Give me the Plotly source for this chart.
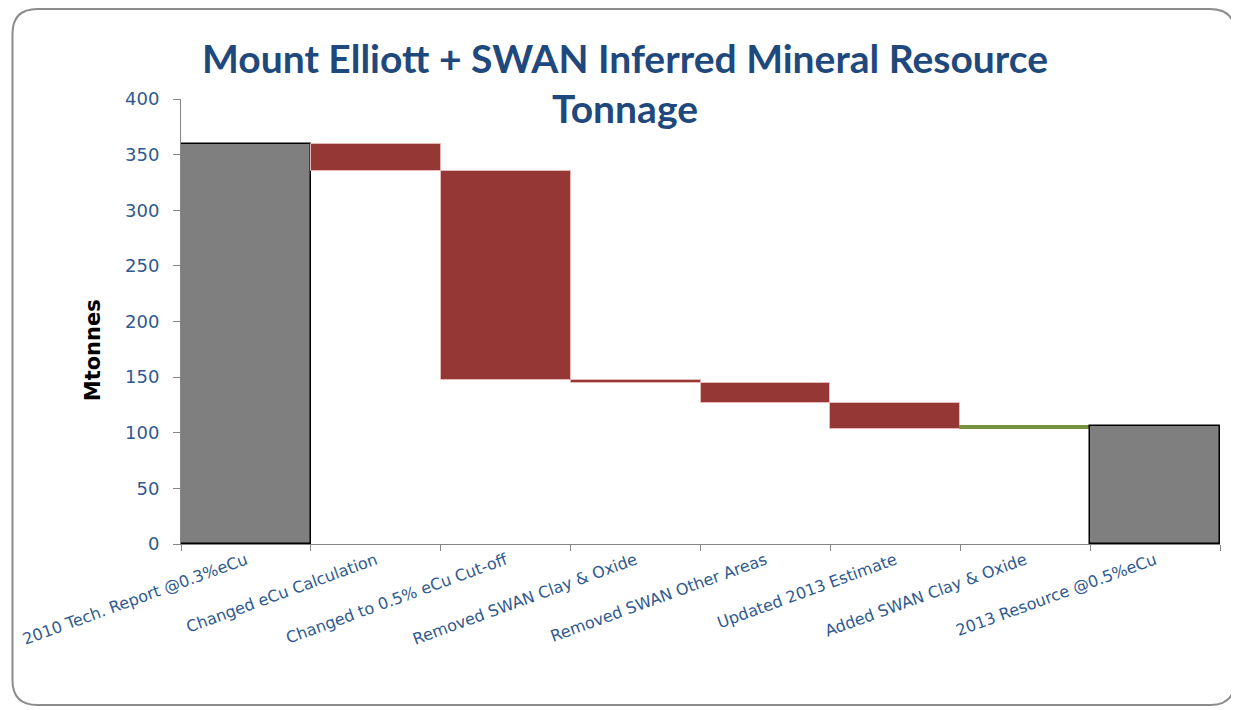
import plotly.graph_objects as go

categories = [
    "2010 Tech. Report @0.3%eCu",
    "Changed eCu Calculation",
    "Changed to 0.5% eCu Cut-off",
    "Removed SWAN Clay & Oxide",
    "Removed SWAN Other Areas",
    "Updated 2013 Estimate",
    "Added SWAN Clay & Oxide",
    "2013 Resource @0.5%eCu",
]
values = [360, -24.5, -188, -3, -18, -23, 2.8, 0]
measures = ["absolute", "relative", "relative", "relative", "relative", "relative", "relative", "total"]
y_ticks = [0, 50, 100, 150, 200, 250, 300, 350, 400]

# page body has an 8px margin, so the figure is drawn offset by (8, 8)
OFF = 8
W, H = 1239 - OFF, 710 - OFF
ml, mr, mt, mb = 178 - OFF, 1239 - 1220, 99 - OFF, 710 - 544
pw, ph = W - ml - mr, H - mt - mb

def px(x):
    return (x - OFF - ml) / pw

def py(y):
    return (H - mb - (y - OFF)) / ph

fig = go.Figure(go.Waterfall(
    x=categories,
    y=values,
    measure=measures,
    decreasing=dict(marker=dict(color="#953735", line=dict(color="#E6B9B8", width=1))),
    increasing=dict(marker=dict(color="#77933C", line=dict(color="#77933C", width=1))),
    totals=dict(marker=dict(color="#7F7F7F", line=dict(color="#000000", width=1.5))),
    connector=dict(visible=False),
    hoverinfo="x+y",
))

# rounded frame
x0, x1 = px(9), px(1235)
yt, yb = py(9), py(705)
rx, ry = 25 / pw, 25 / ph
path = (f"M {x0+rx},{yt} L {x1-rx},{yt} Q {x1},{yt} {x1},{yt-ry} "
        f"L {x1},{yb+ry} Q {x1},{yb} {x1-rx},{yb} L {x0+rx},{yb} "
        f"Q {x0},{yb} {x0},{yb+ry} L {x0},{yt-ry} Q {x0},{yt} {x0+rx},{yt} Z")
fig.add_shape(type="path", path=path, xref="paper", yref="paper",
              line=dict(color="#8C8C8C", width=2), layer="below")

title_font = dict(family="Lato", size=39, color="#1F497D", weight="bold")
fig.add_annotation(text="<b>Mount Elliott + SWAN Inferred Mineral Resource</b>",
                   x=px(623), y=py(58), xref="paper", yref="paper",
                   showarrow=False, font=title_font, xanchor="center", yanchor="middle")
fig.add_annotation(text="<b>Tonnage</b>",
                   x=px(623), y=py(108), xref="paper", yref="paper",
                   showarrow=False, font=title_font, xanchor="center", yanchor="middle")
fig.add_annotation(text="<b>Mtonnes</b>", textangle=-90,
                   x=px(90), y=py(350), xref="paper", yref="paper",
                   showarrow=False, xanchor="center", yanchor="middle",
                   font=dict(size=21, color="black", family="DejaVu Sans"))

fig.update_layout(
    width=W, height=H,
    margin=dict(l=ml, r=mr, t=mt, b=mb),
    paper_bgcolor="white", plot_bgcolor="white",
    waterfallgap=0,
    showlegend=False,
    font=dict(family="DejaVu Sans", color="#2F5A8F"),
)
fig.update_xaxes(
    tickson="boundaries", ticks="outside", ticklen=6, tickcolor="#868686",
    showline=True, linecolor="#868686", linewidth=1, showgrid=False,
    tickangle=-20, tickfont=dict(size=16, color="#2F5A8F", family="DejaVu Sans"),
)
fig.update_yaxes(
    range=[0, 400], tickvals=y_ticks, ticks="outside", ticklen=7, tickcolor="#868686",
    showline=True, linecolor="#868686", linewidth=1, showgrid=False, zeroline=False,
    ticklabelstandoff=10,
    tickfont=dict(size=18, color="#2F5A8F", family="DejaVu Sans"),
)

fig.write_html("out.html")
